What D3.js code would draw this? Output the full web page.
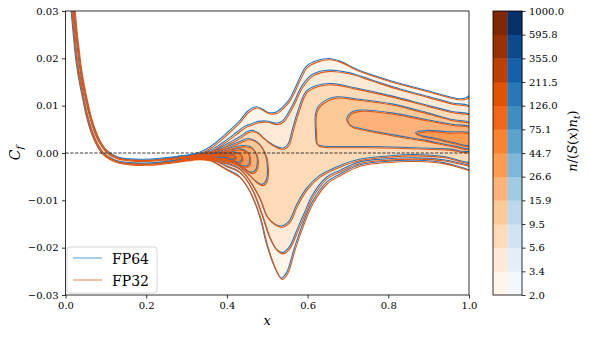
<!DOCTYPE html>
<html>
<head>
<meta charset="utf-8">
<script src="https://cdn.jsdelivr.net/npm/d3@7"></script>
<style>
  body { margin: 0; background: #fff; }
  text { font-family: 'DejaVu Serif', serif; }
</style>
</head>
<body>
<div id="chart"></div>
<script>
// Contour outlines, as [x, Cf] pairs:
// upper edge left -> right, then lower edge right -> left.
const contourL0 = [
  [0.019, 0.0344], [0.024, 0.0300], [0.029, 0.0254], [0.034, 0.0218], [0.039, 0.0182], [0.046, 0.0146],
  [0.054, 0.0112], [0.064, 0.0076], [0.074, 0.0049], [0.086, 0.0025], [0.100, 0.0007], [0.114, -0.0003],
  [0.132, -0.0011], [0.161, -0.0015], [0.198, -0.0016], [0.235, -0.0014], [0.277, -0.0010], [0.317, -0.0005],
  [0.338, 0.0000], [0.362, 0.0011], [0.390, 0.0030], [0.415, 0.0050], [0.433, 0.0064], [0.453, 0.0085],
  [0.475, 0.0095], [0.490, 0.0090], [0.505, 0.0083], [0.525, 0.0084], [0.540, 0.0094], [0.555, 0.0108],
  [0.568, 0.0128], [0.582, 0.0154], [0.599, 0.0180], [0.624, 0.0192], [0.656, 0.0197], [0.681, 0.0192],
  [0.730, 0.0172], [0.812, 0.0149], [0.896, 0.0130], [0.978, 0.0112], [0.995, 0.0114], [1.012, 0.0122],
  [1.012, -0.0040], [0.995, -0.0036], [0.940, -0.0023], [0.870, -0.0018], [0.800, -0.0020], [0.730, -0.0028],
  [0.681, -0.0048], [0.649, -0.0065], [0.614, -0.0106], [0.589, -0.0156], [0.569, -0.0205], [0.550, -0.0256],
  [0.537, -0.0267], [0.525, -0.0252], [0.502, -0.0199], [0.483, -0.0135], [0.458, -0.0082], [0.433, -0.0052],
  [0.400, -0.0036], [0.360, -0.0017], [0.335, -0.0014], [0.317, -0.0015], [0.277, -0.0020], [0.235, -0.0024],
  [0.198, -0.0026], [0.161, -0.0025], [0.131, -0.0021], [0.109, -0.0013], [0.093, -0.0003], [0.078, 0.0017],
  [0.065, 0.0043], [0.055, 0.0072], [0.045, 0.0112], [0.037, 0.0146], [0.030, 0.0182], [0.025, 0.0218],
  [0.021, 0.0254], [0.016, 0.0300], [0.011, 0.0344]
];

const contourL1 = [
  [0.017, 0.0344], [0.022, 0.0300], [0.027, 0.0254], [0.032, 0.0218], [0.037, 0.0182], [0.044, 0.0146],
  [0.052, 0.0112], [0.062, 0.0075], [0.072, 0.0047], [0.084, 0.0023], [0.098, 0.0005], [0.112, -0.0006],
  [0.132, -0.0013], [0.161, -0.0017], [0.198, -0.0018], [0.235, -0.0016], [0.277, -0.0012], [0.317, -0.0007],
  [0.340, -0.0003], [0.370, 0.0007], [0.400, 0.0024], [0.425, 0.0040], [0.445, 0.0053], [0.460, 0.0058],
  [0.480, 0.0064], [0.500, 0.0065], [0.525, 0.0060], [0.540, 0.0065], [0.564, 0.0097], [0.589, 0.0140],
  [0.614, 0.0163], [0.650, 0.0172], [0.705, 0.0167], [0.760, 0.0152], [0.830, 0.0133], [0.900, 0.0117],
  [0.960, 0.0103], [1.012, 0.0092],
  [1.012, -0.0029], [0.995, -0.0027], [0.940, -0.0017], [0.870, -0.0013], [0.800, -0.0015], [0.730, -0.0022],
  [0.681, -0.0040], [0.649, -0.0054], [0.614, -0.0092], [0.595, -0.0128], [0.577, -0.0163], [0.557, -0.0201],
  [0.540, -0.0213], [0.525, -0.0206], [0.508, -0.0180], [0.490, -0.0135], [0.463, -0.0076], [0.433, -0.0042],
  [0.400, -0.0029], [0.370, -0.0017], [0.340, -0.0013], [0.317, -0.0013], [0.277, -0.0018], [0.235, -0.0022],
  [0.198, -0.0024], [0.161, -0.0023], [0.131, -0.0019], [0.110, -0.0011], [0.095, -0.0001], [0.080, 0.0019],
  [0.067, 0.0045], [0.057, 0.0073], [0.047, 0.0112], [0.040, 0.0146], [0.032, 0.0182], [0.027, 0.0218],
  [0.023, 0.0254], [0.018, 0.0300], [0.013, 0.0344]
];

const contourL2 = [
  [0.250, -0.0016], [0.300, -0.0010], [0.340, -0.0004], [0.380, 0.0006], [0.410, 0.0020], [0.435, 0.0032],
  [0.452, 0.0042], [0.465, 0.0045], [0.478, 0.0041], [0.490, 0.0032], [0.505, 0.0021], [0.520, 0.0013],
  [0.535, 0.0008], [0.545, 0.0009], [0.555, 0.0018], [0.565, 0.0048], [0.578, 0.0085], [0.599, 0.0128],
  [0.625, 0.0140], [0.663, 0.0144], [0.720, 0.0135], [0.810, 0.0118], [0.900, 0.0098], [0.960, 0.0085],
  [1.012, 0.0075],
  [1.012, -0.0019], [0.940, -0.0010], [0.870, -0.0006], [0.800, -0.0009], [0.730, -0.0016], [0.680, -0.0030],
  [0.631, -0.0051], [0.599, -0.0078], [0.574, -0.0114], [0.557, -0.0146], [0.537, -0.0157], [0.520, -0.0152],
  [0.502, -0.0137], [0.483, -0.0097], [0.458, -0.0060], [0.433, -0.0035], [0.400, -0.0023], [0.360, -0.0014],
  [0.300, -0.0014], [0.250, -0.0020]
];

// level 3: the knot where the curves spread, and the band of the upper branch
const contourL3a = [
  [0.280, -0.0011], [0.320, -0.0007], [0.360, -0.0001], [0.400, 0.0010], [0.430, 0.0020], [0.455, 0.0028],
  [0.475, 0.0022], [0.490, 0.0008], [0.499, -0.0010], [0.503, -0.0035], [0.500, -0.0060], [0.490, -0.0069],
  [0.475, -0.0063], [0.458, -0.0049], [0.430, -0.0028], [0.400, -0.0019], [0.360, -0.0012], [0.320, -0.0013],
  [0.280, -0.0016]
];
const contourL3b = [
  [0.622, 0.0080], [0.630, 0.0097], [0.650, 0.0110], [0.673, 0.0116], [0.720, 0.0112], [0.812, 0.0101],
  [0.900, 0.0082], [0.960, 0.0068], [1.012, 0.0058],
  [1.012, 0.0003], [0.950, 0.0006], [0.850, 0.0009], [0.750, 0.0011], [0.680, 0.0011], [0.640, 0.0012],
  [0.626, 0.0016], [0.622, 0.0045]
];

const contourL4a = [
  [0.290, -0.0012], [0.330, -0.0008], [0.370, -0.0002], [0.410, 0.0008], [0.440, 0.0013], [0.462, 0.0010],
  [0.474, -0.0003], [0.478, -0.0022], [0.472, -0.0040], [0.460, -0.0043], [0.440, -0.0031], [0.410, -0.0019],
  [0.370, -0.0011], [0.330, -0.0012], [0.290, -0.0014]
];
const contourL4b = [
  [0.700, 0.0072], [0.712, 0.0084], [0.735, 0.0088], [0.812, 0.0082], [0.896, 0.0068], [0.960, 0.0058],
  [1.012, 0.0050], [1.012, 0.0008], [0.960, 0.0013], [0.896, 0.0024], [0.812, 0.0036], [0.740, 0.0048],
  [0.712, 0.0054], [0.702, 0.0062]
];

const contourL5a = [
  [0.310, -0.0011], [0.340, -0.0008], [0.380, -0.0002], [0.410, 0.0004], [0.435, 0.0006], [0.452, 0.0000],
  [0.459, -0.0013], [0.455, -0.0028], [0.443, -0.0030], [0.420, -0.0021], [0.390, -0.0014], [0.350, -0.0011],
  [0.310, -0.0012]
];
const contourL5b = [
  [0.870, 0.0040], [0.900, 0.0045], [0.950, 0.0042], [1.012, 0.0038],
  [1.012, 0.0014], [0.960, 0.0020], [0.920, 0.0028], [0.885, 0.0034]
];

const contourL6 = [
  [0.330, -0.0009], [0.350, -0.0007], [0.390, -0.0002], [0.420, 0.0000], [0.436, -0.0005], [0.440, -0.0014],
  [0.434, -0.0022], [0.420, -0.0019], [0.390, -0.0013], [0.350, -0.0010], [0.330, -0.0010]
];
const contourL7 = [
  [0.340, -0.0009], [0.370, -0.0006], [0.400, -0.0004], [0.418, -0.0006], [0.424, -0.0011], [0.418, -0.0016],
  [0.400, -0.0014], [0.370, -0.0011], [0.345, -0.0010]
];
const contourL8 = [
  [0.355, -0.0008], [0.380, -0.0006], [0.400, -0.0007], [0.406, -0.0010], [0.400, -0.0012], [0.380, -0.0011],
  [0.360, -0.0009]
];

// colour levels, lowest first (Oranges for FP32, Blues for FP64)
const orangeLevels = ['#fff5eb', '#feead6', '#fddbb8', '#fdc997', '#fdb27a', '#fd9b52',
                      '#f98330', '#f0661a', '#e05206', '#bd3f02', '#983004', '#7f2704'];
const blueLevels = ['#f3f8fe', '#e3eef9', '#d2e3f3', '#bdd7ec', '#a0cbe2', '#7db8da',
                    '#5aa3cf', '#3e8ec4', '#2878b8', '#1561a9', '#0b4a90', '#08306b'];
const colorbarTicks = ['2.0', '3.4', '5.6', '9.5', '15.9', '26.6', '44.7',
                       '75.1', '126.0', '211.5', '355.0', '595.8', '1000.0'];
const xTicks = [0, 0.2, 0.4, 0.6, 0.8, 1.0];
const yTicks = [-0.03, -0.02, -0.01, 0, 0.01, 0.02, 0.03];
const seriesNames = ['FP64', 'FP32'];

const contours = [
  { level: 0, points: contourL0 },
  { level: 1, points: contourL1 },
  { level: 2, points: contourL2 },
  { level: 3, points: contourL3a },
  { level: 3, points: contourL3b },
  { level: 4, points: contourL4a },
  { level: 4, points: contourL4b },
  { level: 5, points: contourL5a },
  { level: 5, points: contourL5b },
  { level: 6, points: contourL6 },
  { level: 7, points: contourL7 },
  { level: 8, points: contourL8 }
];

const width = 589;
const height = 338;
const plot = { left: 65.5, right: 469, top: 11, bottom: 295 };
const fp64Line = '#2179c2';
const fp32Line = '#e6550d';

const svg = d3.select('#chart')
    .append('svg')
    .attr('width', width)
    .attr('height', height);

const x = d3.scaleLinear().domain([0, 1]).range([plot.left, plot.right]);
const y = d3.scaleLinear().domain([-0.03, 0.03]).range([plot.bottom, plot.top]);

svg.append('defs').append('clipPath')
    .attr('id', 'plot-clip')
    .append('rect')
    .attr('x', plot.left)
    .attr('y', plot.top)
    .attr('width', plot.right - plot.left)
    .attr('height', plot.bottom - plot.top);

const outline = d3.line()
    .x(d => x(d[0]))
    .y(d => y(d[1]))
    .curve(d3.curveCatmullRomClosed.alpha(0.5));

const body = svg.append('g').attr('clip-path', 'url(#plot-clip)');

// Filled levels
body.append('g')
    .selectAll('path')
    .data(contours)
    .enter().append('path')
    .attr('d', d => outline(d.points))
    .attr('fill', d => orangeLevels[d.level]);

// FP64 contour lines sit a touch up and left of FP32
body.append('g')
    .attr('transform', 'translate(-1,-1.3)')
    .selectAll('path')
    .data(contours)
    .enter().append('path')
    .attr('d', d => outline(d.points))
    .attr('fill', 'none')
    .attr('stroke', fp64Line)
    .attr('stroke-width', 1.1);

body.append('g')
    .selectAll('path')
    .data(contours)
    .enter().append('path')
    .attr('d', d => outline(d.points))
    .attr('fill', 'none')
    .attr('stroke', fp32Line)
    .attr('stroke-width', 1.1);

// Cf = 0 reference
body.append('line')
    .attr('x1', x(0)).attr('x2', x(1))
    .attr('y1', y(0)).attr('y2', y(0))
    .attr('stroke', '#222')
    .attr('stroke-width', 0.9)
    .attr('stroke-dasharray', '3.2,1.6');

// Axes
const yAxis = svg.append('g')
    .attr('transform', `translate(${plot.left},0)`)
    .call(d3.axisLeft(y).tickValues(yTicks).tickFormat(d3.format('.2f')).tickSize(3.5).tickPadding(3.5));
const xAxis = svg.append('g')
    .attr('transform', `translate(0,${plot.bottom})`)
    .call(d3.axisBottom(x).tickValues(xTicks).tickFormat(d3.format('.1f')).tickSize(3.5).tickPadding(3.5));

[xAxis, yAxis].forEach(a => {
    a.select('.domain').remove();
    a.selectAll('line').attr('stroke', '#000').attr('stroke-width', 0.8);
    a.selectAll('text').attr('font-family', 'DejaVu Serif').attr('font-size', 10).attr('fill', '#000');
});

svg.append('rect')
    .attr('x', plot.left).attr('y', plot.top)
    .attr('width', plot.right - plot.left).attr('height', plot.bottom - plot.top)
    .attr('fill', 'none').attr('stroke', '#000').attr('stroke-width', 0.8);

svg.append('text')
    .attr('x', (plot.left + plot.right) / 2)
    .attr('y', 325)
    .attr('text-anchor', 'middle')
    .attr('font-size', 13)
    .attr('font-style', 'italic')
    .text('x');

const cfLabel = svg.append('text')
    .attr('transform', `translate(20,${y(0)}) rotate(-90)`)
    .attr('text-anchor', 'middle')
    .attr('font-size', 14)
    .attr('font-style', 'italic');
cfLabel.append('tspan').text('C');
cfLabel.append('tspan').attr('font-size', 10).attr('dy', 3).text('f');

// Legend
const legend = svg.append('g');
legend.append('rect')
    .attr('x', 67).attr('y', 247).attr('width', 90).attr('height', 46).attr('rx', 3)
    .attr('fill', '#fff').attr('fill-opacity', 0.8)
    .attr('stroke', '#ccc').attr('stroke-width', 0.8);
const legendColors = ['#8fbcdf', '#f2aa86'];
seriesNames.forEach((name, i) => {
    const ly = 258 + i * 22;
    legend.append('line')
        .attr('x1', 73).attr('x2', 102).attr('y1', ly).attr('y2', ly)
        .attr('stroke', legendColors[i]).attr('stroke-width', 1.5);
    legend.append('text')
        .attr('x', 112).attr('y', ly + 5.5)
        .attr('font-size', 14)
        .text(name);
});

// Colorbar: Oranges on the left, Blues on the right
const cb = { left: 493, right: 522, top: 11, bottom: 295 };
const cbY = d3.scaleLinear().domain([0, colorbarTicks.length - 1]).range([cb.bottom, cb.top]);
const cbMid = (cb.left + cb.right) / 2;

const colorbar = svg.append('g');
[[orangeLevels, cb.left], [blueLevels, cbMid]].forEach(([colors, left]) => {
    colorbar.append('g')
        .selectAll('rect')
        .data(colors)
        .enter().append('rect')
        .attr('x', left)
        .attr('y', (d, i) => cbY(i + 1))
        .attr('width', cbMid - cb.left + 0.3)
        .attr('height', (d, i) => cbY(i) - cbY(i + 1) + 0.4)
        .attr('fill', d => d);
});
colorbar.append('rect')
    .attr('x', cb.left).attr('y', cb.top)
    .attr('width', cb.right - cb.left).attr('height', cb.bottom - cb.top)
    .attr('fill', 'none').attr('stroke', '#000').attr('stroke-width', 0.8);

const cbAxis = svg.append('g')
    .attr('transform', `translate(${cb.right},0)`)
    .call(d3.axisRight(cbY).tickValues(d3.range(colorbarTicks.length))
        .tickFormat(i => colorbarTicks[i]).tickSize(3.5).tickPadding(3.5));
cbAxis.select('.domain').remove();
cbAxis.selectAll('line').attr('stroke', '#000').attr('stroke-width', 0.8);
cbAxis.selectAll('text').attr('font-family', 'DejaVu Serif').attr('font-size', 10).attr('fill', '#000');

const cbLabel = svg.append('text')
    .attr('transform', 'translate(577,141) rotate(-90)')
    .attr('text-anchor', 'middle')
    .attr('font-size', 13);
cbLabel.append('tspan').attr('font-style', 'italic').text('n');
cbLabel.append('tspan').text('/(');
cbLabel.append('tspan').attr('font-style', 'italic').text('S');
cbLabel.append('tspan').text('(');
cbLabel.append('tspan').attr('font-style', 'italic').text('x');
cbLabel.append('tspan').text(')');
cbLabel.append('tspan').attr('font-style', 'italic').text('n');
cbLabel.append('tspan').attr('font-style', 'italic').attr('font-size', 9).attr('dy', 3).text('t');
cbLabel.append('tspan').attr('dy', -3).text(')');
</script>
</body>
</html>
